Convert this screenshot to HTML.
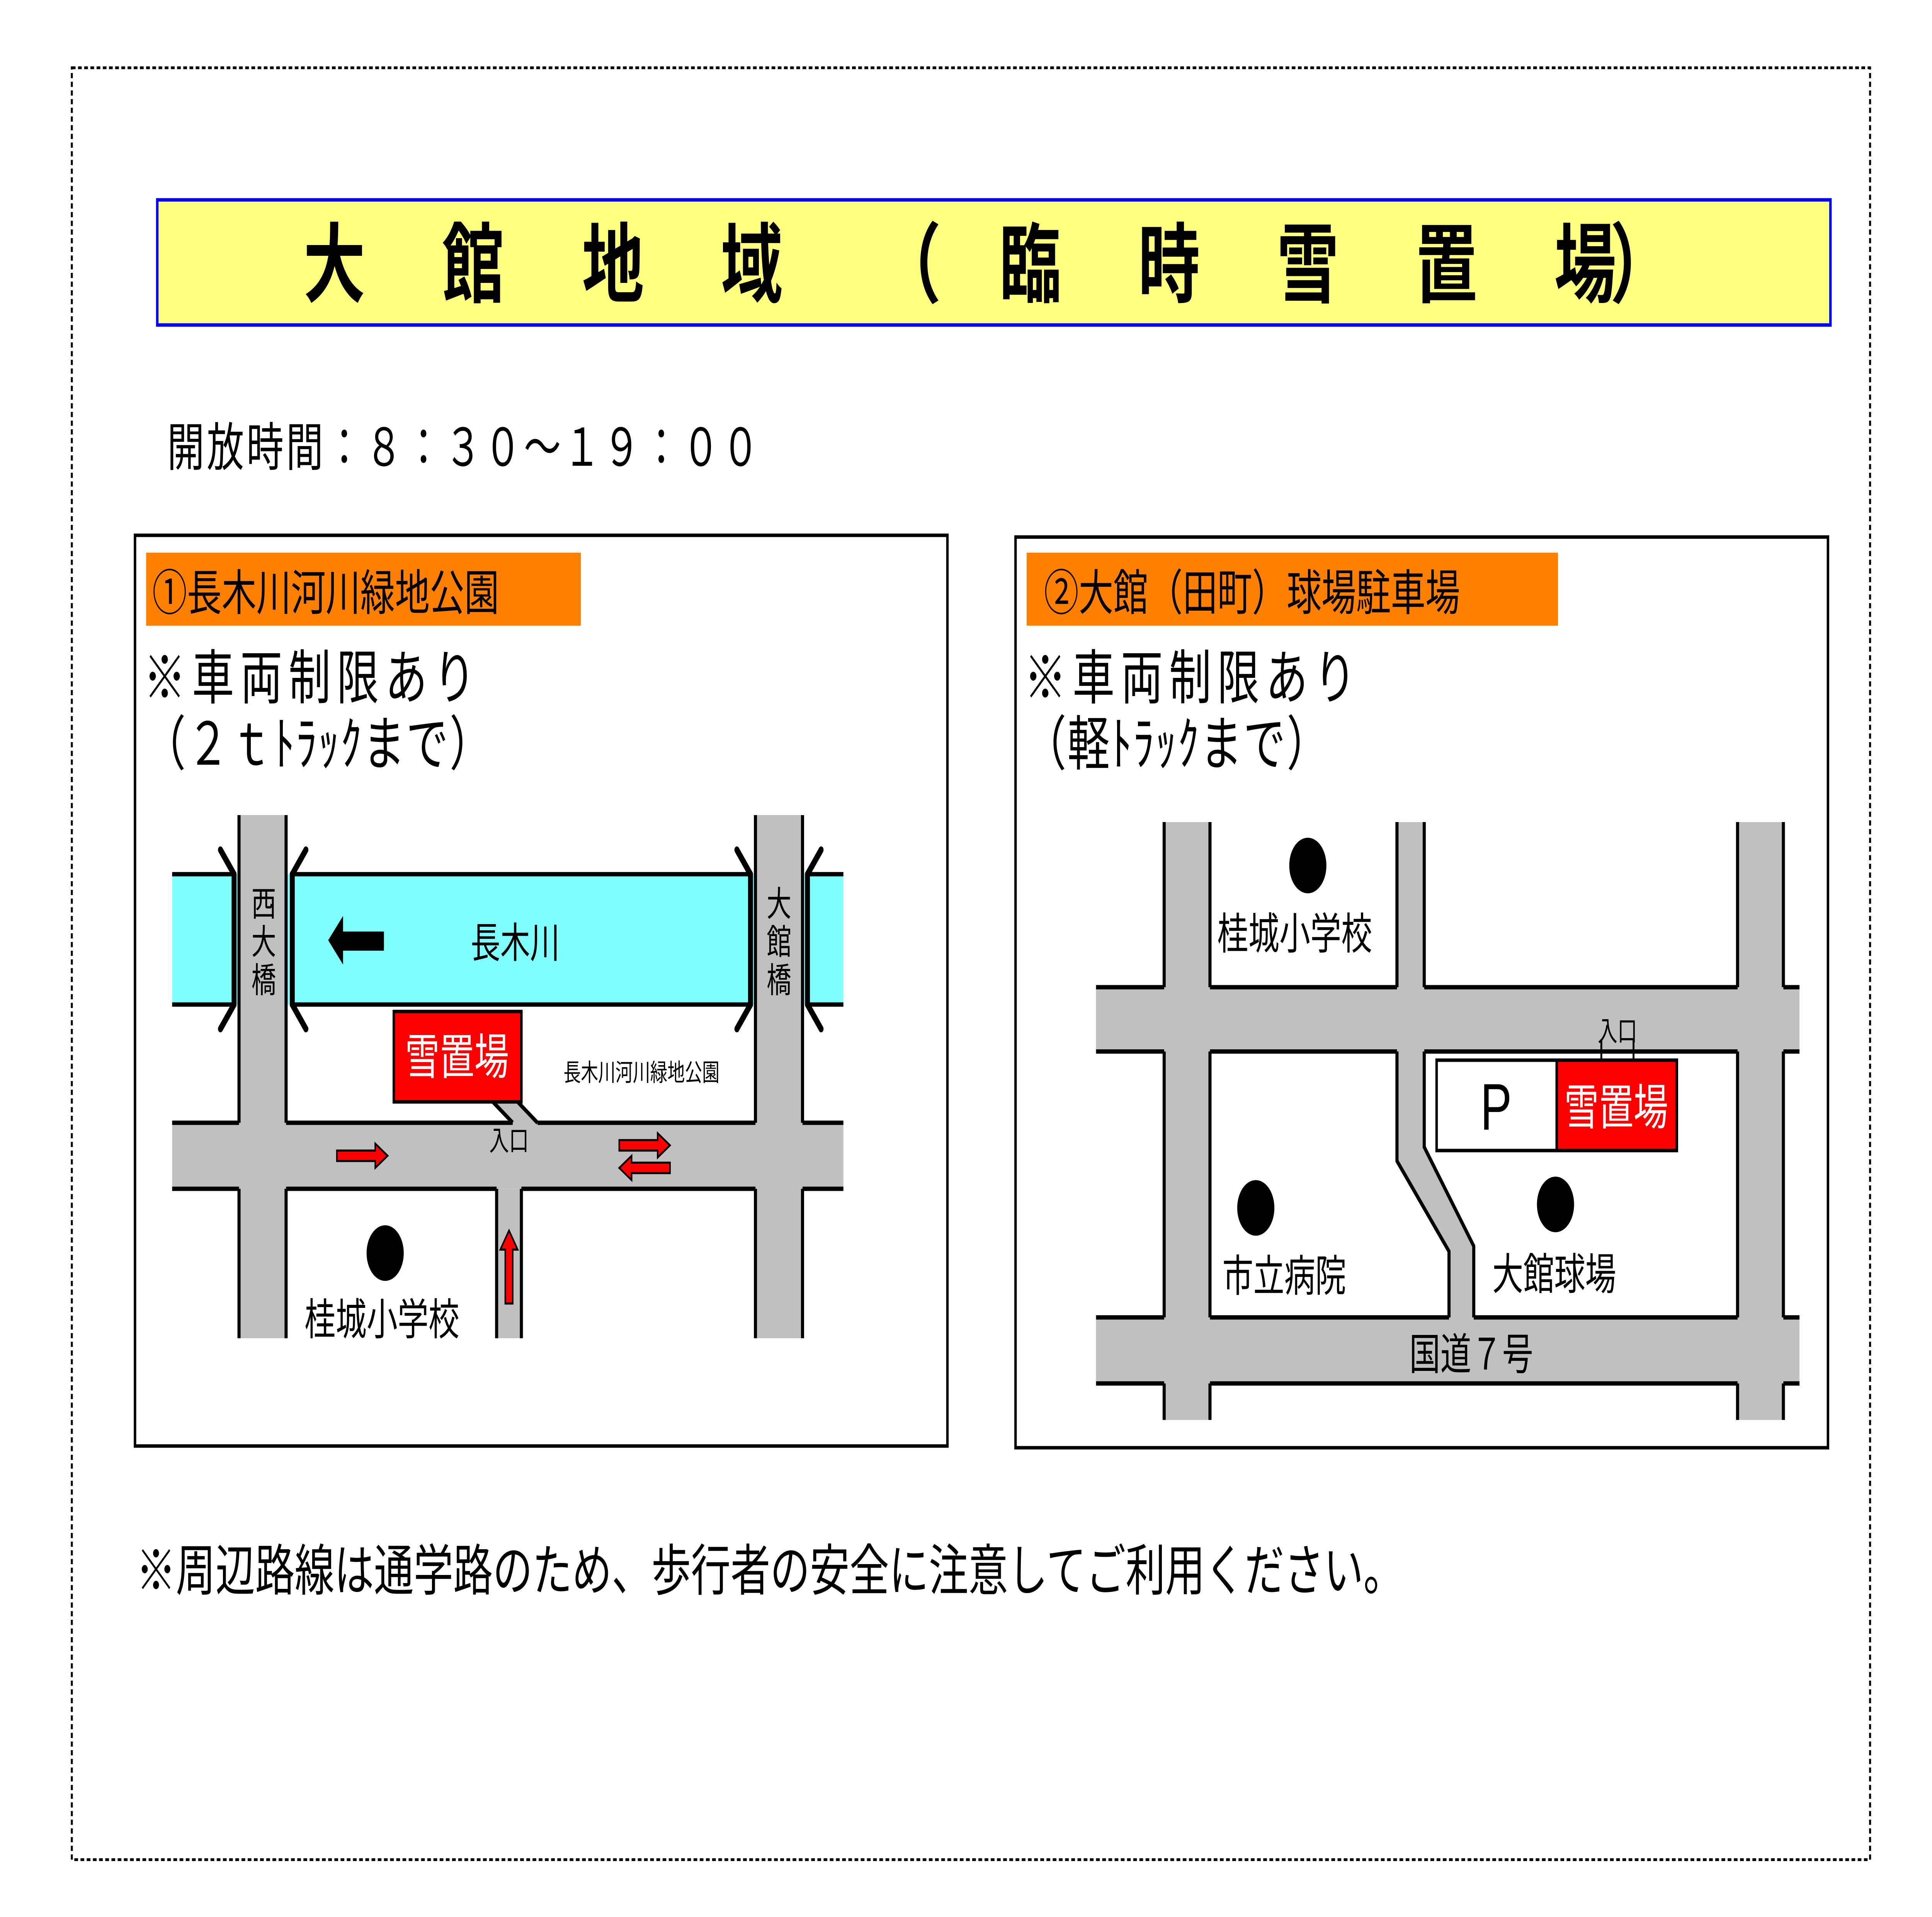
<!DOCTYPE html>
<html><head><meta charset="utf-8">
<style>
html,body{margin:0;padding:0;background:#fff;width:100%;height:100%;overflow:hidden;}
svg{display:block;width:100vw;height:100vh;}
text{font-family:"Liberation Sans","Noto Sans CJK JP",sans-serif;}
</style></head>
<body>
<svg viewBox="0 0 1560 1103" preserveAspectRatio="none" xmlns="http://www.w3.org/2000/svg">
<rect width="1560" height="1103" fill="#fff"/>
<rect x="58" y="39" width="1452" height="1031" fill="none" stroke="#000" stroke-width="1.6" stroke-dasharray="3,2"/>
<rect x="127" y="115" width="1351" height="72" fill="#ffff80" stroke="#0000ff" stroke-width="2"/>
<g font-size="50" font-weight="bold" fill="#000" text-anchor="middle">
<text x="270" y="170">大</text><text x="382" y="170">館</text><text x="495" y="170">地</text><text x="607" y="170">域</text>
<text x="735" y="170">（</text><text x="832" y="170">臨</text><text x="944" y="170">時</text><text x="1056" y="170">雪</text><text x="1168" y="170">置</text><text x="1280" y="170">場</text><text x="1325" y="170">）</text>
</g>
<text x="135" y="268" font-size="30" letter-spacing="2">開放時間：８：３０～１９：００</text>

<rect x="109" y="308" width="656" height="524" fill="none" stroke="#000" stroke-width="2"/>
<rect x="118" y="318" width="351" height="42" fill="#ff8000"/>
<text x="123" y="351" font-size="28">①長木川河川緑地公園</text>
<text x="116" y="402" font-size="34" letter-spacing="5">※車両制限あり</text>
<text x="116" y="440" font-size="34" letter-spacing="1">（２ｔﾄﾗｯｸまで）</text>

<rect x="139" y="503" width="542" height="75" fill="#80ffff"/>
<g fill="#c0c0c0">
<rect x="193" y="469" width="38" height="301"/>
<rect x="610" y="469" width="38" height="301"/>
<rect x="139" y="646" width="542" height="38"/>
<rect x="401" y="684" width="20" height="86"/>
<polygon points="398,634 418,634 434,646 414,646"/>
</g>
<g stroke="#000" stroke-width="2.5" fill="none">
<path d="M139,503H189M236,503H606M652,503H681M139,578H189M236,578H606M652,578H681"/>
<path d="M193,469V646M193,684V770M231,469V646M231,684V770M610,469V646M610,684V770M648,469V646M648,684V770M401,684V770M421,684V770"/>
<path d="M139,646H193M231,646H414M434,646H610M648,646H681M139,684H193M231,684H401M421,684H610M648,684H681"/>
<path d="M398,634L414,646M418,634L434,646"/>
</g>
<g stroke="#000" stroke-width="4" fill="none" stroke-linecap="round">
<path d="M178,489L189,503V578L178,592"/>
<path d="M247,489L236,503V578L247,592"/>
<path d="M595,489L606,503V578L595,592"/>
<path d="M663,489L652,503V578L663,592"/>
</g>
<polygon points="265,541 277,527 277,536 310,536 310,547 277,547 277,555" fill="#000"/>
<text x="380" y="551" font-size="24">長木川</text>
<g font-size="20" text-anchor="middle">
<text x="213" y="527">西</text><text x="213" y="549">大</text><text x="213" y="571">橋</text>
<text x="629" y="527">大</text><text x="629" y="549">館</text><text x="629" y="571">橋</text>
</g>
<rect x="318" y="582" width="103" height="52" fill="#ff0000" stroke="#000" stroke-width="2"/>
<text x="369" y="618" font-size="28" fill="#fff" text-anchor="middle">雪置場</text>
<text x="455" y="622" font-size="14">長木川河川緑地公園</text>
<text x="411" y="662" font-size="16" text-anchor="middle">入口</text>
<g fill="#ff0000" stroke="#000" stroke-width="1.2">
<polygon points="272,662 303,662 303,658 313,665 303,672 303,668 272,668"/>
<polygon points="500,656 531,656 531,652 541,659 531,666 531,662 500,662"/>
<polygon points="541,669 510,669 510,665 500,672 510,679 510,675 541,675"/>
<polygon points="408,750 408,719 404,719 411,708 418,719 414,719 414,750"/>
</g>
<ellipse cx="311" cy="721" rx="15" ry="16" fill="#000"/>
<text x="246" y="768" font-size="25">桂城小学校</text>

<rect x="820" y="309" width="656" height="524" fill="none" stroke="#000" stroke-width="2"/>
<rect x="829" y="318" width="429" height="42" fill="#ff8000"/>
<text x="843" y="351" font-size="28">②大館（田町）球場駐車場</text>
<text x="827" y="402" font-size="34" letter-spacing="5">※車両制限あり</text>
<text x="827" y="440" font-size="34" letter-spacing="1">（軽ﾄﾗｯｸまで）</text>

<g fill="#c0c0c0">
<rect x="940" y="473" width="37" height="344"/>
<rect x="1403" y="473" width="37" height="344"/>
<rect x="885" y="568" width="568" height="37"/>
<rect x="885" y="758" width="568" height="38"/>
<rect x="1128" y="473" width="22" height="100"/>
<polygon points="1128,600 1150,600 1150,660 1190,717 1190,762 1170,762 1170,720 1128,668"/>
</g>
<g stroke="#000" stroke-width="2.5" fill="none">
<path d="M940,473V568M940,605V758M940,796V817M977,473V568M977,605V758M977,796V817"/>
<path d="M1403,473V568M1403,605V758M1403,796V817M1440,473V568M1440,605V758M1440,796V817"/>
<path d="M1128,473V568M1150,473V568"/>
<path d="M885,568H940M977,568H1128M1150,568H1403M1440,568H1453"/>
<path d="M885,605H940M977,605H1128M1150,605H1403M1440,605H1453"/>
<path d="M885,758H940M977,758H1170M1190,758H1403M1440,758H1453"/>
<path d="M885,796H940M977,796H1403M1440,796H1453"/>
<path d="M1128,605V668L1170,720V758M1150,605V660L1190,717V758"/>
<path d="M1293,598V610M1319,598V610" stroke-width="1.5"/>
</g>
<rect x="1160" y="610" width="97" height="52" fill="#fff" stroke="#000" stroke-width="2"/>
<rect x="1257" y="610" width="97" height="52" fill="#ff0000" stroke="#000" stroke-width="2"/>
<text x="1208" y="650" font-size="38" text-anchor="middle">P</text>
<text x="1305" y="647" font-size="28" fill="#fff" text-anchor="middle">雪置場</text>
<text x="1306" y="599" font-size="16" text-anchor="middle">入口</text>
<ellipse cx="1056" cy="498" rx="15" ry="16" fill="#000"/>
<text x="983" y="546" font-size="25">桂城小学校</text>
<ellipse cx="1014" cy="695" rx="15" ry="16" fill="#000"/>
<text x="987" y="743" font-size="25">市立病院</text>
<ellipse cx="1256" cy="693" rx="15" ry="16" fill="#000"/>
<text x="1205" y="742" font-size="25">大館球場</text>
<text x="1138" y="788" font-size="25">国道７号</text>

<text x="110" y="915" font-size="32">※周辺路線は通学路のため、歩行者の安全に注意してご利用ください。</text>
</svg>
</body></html>
